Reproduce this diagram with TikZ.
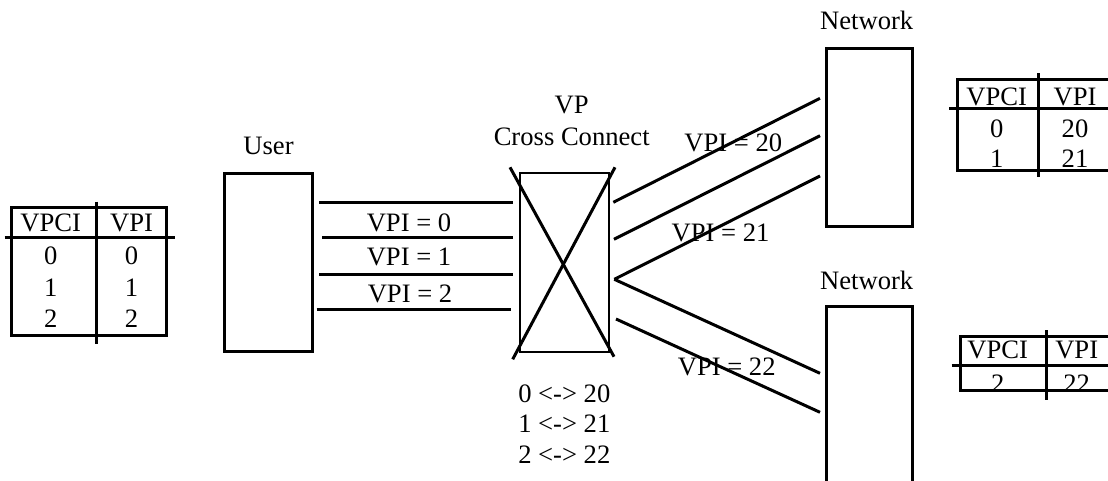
\documentclass[tikz,border=0pt]{standalone}
\usepackage{fontspec}
\setmainfont{Liberation Serif}
\begin{document}
\begin{tikzpicture}[x=1pt,y=-1pt,
  font=\fontsize{26.6}{30}\selectfont,
  heavy/.style={line width=3pt},
  blockbox/.style={draw, line width=3pt, inner sep=0pt, minimum width=88pt, minimum height=178.5pt},
  xbox/.style={draw, line width=2pt, inner sep=0pt, minimum width=88.4pt, minimum height=178.4pt},
  lbl/.style={inner sep=0pt, outer sep=0pt}]
\useasboundingbox (0,0) rectangle (1108,481);
\clip (0,0) rectangle (1108,481);

% ---------- main boxes ----------
\node[blockbox] (user) at (268.5,262.3) {};
\node[xbox] (xc) at (564.5,262.5) {};
\node[blockbox, minimum width=86pt] (netA) at (869.7,137.5) {};
\node[blockbox, minimum width=86pt] (netB) at (869.7,395.9) {};

% box titles
\node[lbl] (userlbl) at (268.5,145.5) {User};
\node[lbl] (vplbl) at (571.7,105) {VP};
\node[lbl] (cclbl) at (571.7,136.7) {Cross Connect};
\node[lbl] (netAlbl) at (866.7,20) {Network};
\node[lbl] (netBlbl) at (866.7,280) {Network};

% cross in the VP cross connect
\coordinate (xa1) at (510,167.3);
\coordinate (xa2) at (614,356.7);
\coordinate (xb1) at (615,167.3);
\coordinate (xb2) at (512.7,359.3);
\draw[heavy] (xa1) -- (xa2);
\draw[heavy] (xb1) -- (xb2);

% ---------- user <-> cross connect lines ----------
\coordinate (u1) at (319.3,202.3);  \coordinate (c1) at (513.3,202.3);
\coordinate (u2) at (322,237.3);    \coordinate (c2) at (513.3,237.3);
\coordinate (u3) at (319.3,274.7);  \coordinate (c3) at (513.3,274.7);
\coordinate (u4) at (316.7,309.3);  \coordinate (c4) at (511,309.3);
\draw[heavy] (u1) -- (c1);
\draw[heavy] (u2) -- (c2);
\draw[heavy] (u3) -- (c3);
\draw[heavy] (u4) -- (c4);
\node[lbl] (l0) at (409,223.3) {VPI = 0};
\node[lbl] (l1) at (409,256.7) {VPI = 1};
\node[lbl] (l2) at (410,294) {VPI = 2};

% ---------- cross connect <-> networks ----------
\coordinate (r1) at (613.3,202.3);  \coordinate (n1) at (820,98.3);
\coordinate (r2) at (614,239.3);    \coordinate (n2) at (820,135.7);
\coordinate (r3) at (614.3,279.3);  \coordinate (n3) at (820,176);
\coordinate (n4) at (820,373.3);
\coordinate (r5) at (616,319);      \coordinate (n5) at (820,412.3);
\draw[heavy] (r1) -- (n1);
\draw[heavy] (r2) -- (n2);
\draw[heavy] (r3) -- (n3);
\draw[heavy] (r3) -- (n4);
\draw[heavy] (r5) -- (n5);
\node[lbl] (l20) at (733.3,143.3) {VPI = 20};
\node[lbl] (l21) at (720.5,233.3) {VPI = 21};
\node[lbl] (l22) at (726.7,366.7) {VPI = 22};

% mapping
\node[lbl] (m0) at (564.3,393.3) {0 <-> 20};
\node[lbl] (m1) at (564.3,423.3) {1 <-> 21};
\node[lbl] (m2) at (564.3,455) {2 <-> 22};

% ---------- left table ----------
\node[lbl] (tLh1) at (50.7,222.5) {VPCI};
\node[lbl] (tLh2) at (131.5,222.5) {VPI};
\node[lbl] (tLa1) at (50.7,255.7) {0};
\node[lbl] (tLa2) at (131.5,255.7) {0};
\node[lbl] (tLb1) at (50.7,287.7) {1};
\node[lbl] (tLb2) at (131.5,287.7) {1};
\node[lbl] (tLc1) at (50.7,319) {2};
\node[lbl] (tLc2) at (131.5,319) {2};
\draw[heavy] (11,207.7) rectangle (166,335.7);
\draw[heavy] (4.7,237.3) -- (175,237.3);
\draw[heavy] (96.7,201.7) -- (96.7,344.3);

% ---------- top right table ----------
\node[lbl] (tAh1) at (996.7,96.5) {VPCI};
\node[lbl] (tAh2) at (1075,96.5) {VPI};
\node[lbl] (tAa1) at (996.7,128.3) {0};
\node[lbl] (tAa2) at (1075,128.3) {20};
\node[lbl] (tAb1) at (996.7,159) {1};
\node[lbl] (tAb2) at (1075,159) {21};
\draw[heavy] (957.3,80) rectangle (1125,170.7);
\draw[heavy] (949,108.3) -- (1125,108.3);
\draw[heavy] (1038.3,73.3) -- (1038.3,176.7);

% ---------- bottom right table ----------
\node[lbl] (tBh1) at (997.7,350) {VPCI};
\node[lbl] (tBh2) at (1076.7,350) {VPI};
\node[lbl] (tBa1) at (997.7,384) {2};
\node[lbl] (tBa2) at (1076.7,384) {22};
\draw[heavy] (960,336) rectangle (1125,390.7);
\draw[heavy] (951.7,365) -- (1125,365);
\draw[heavy] (1046,330) -- (1046,400);
\end{tikzpicture}
\end{document}
